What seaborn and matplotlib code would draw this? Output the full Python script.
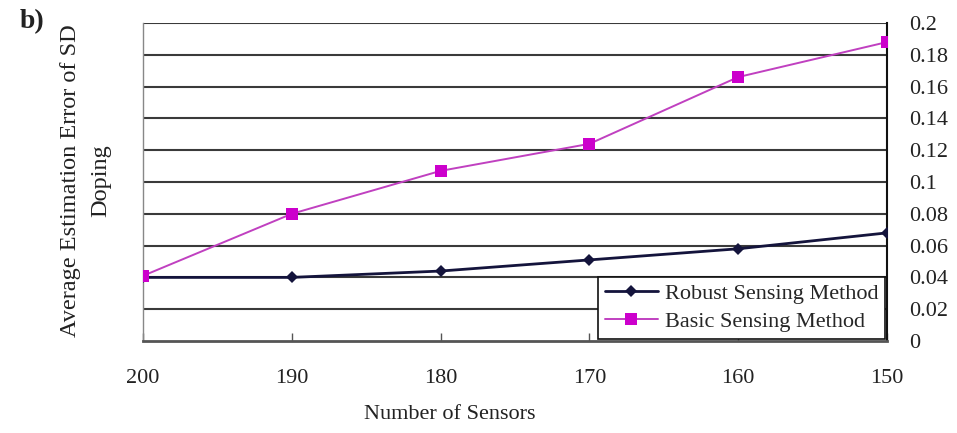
import matplotlib
matplotlib.use("Agg")
import matplotlib.pyplot as plt
import seaborn as sns
import pandas as pd

# Number of sensors (category axis, decreasing left to right)
sensors = [200, 190, 180, 170, 160, 150]
# Average estimation error of SD doping for each method
robust = [0.040, 0.040, 0.044, 0.051, 0.058, 0.068]
basic = [0.041, 0.080, 0.107, 0.124, 0.166, 0.188]
y_ticks = [0, 0.02, 0.04, 0.06, 0.08, 0.1, 0.12, 0.14, 0.16, 0.18, 0.2]
y_tick_labels = ["0", "0.02", "0.04", "0.06", "0.08", "0.1", "0.12", "0.14", "0.16", "0.18", "0.2"]

sns.set_theme(style="white")
plt.rcParams["font.family"] = ["Liberation Serif", "DejaVu Serif"]

df = pd.DataFrame({
    "sensors": sensors * 2,
    "error": robust + basic,
    "method": ["Robust Sensing Method"] * len(sensors) + ["Basic Sensing Method"] * len(sensors),
})

fig = plt.figure(figsize=(9.57, 4.33), dpi=100)
ax = fig.add_axes([143 / 957, 1 - 341 / 433, 744 / 957, 318 / 433])

# horizontal gridlines
for yv in y_ticks[1:]:
    ax.axhline(yv, color="#3a3a3a", lw=1.5, zorder=1)

sns.lineplot(
    data=df[df.method == "Robust Sensing Method"], x="sensors", y="error",
    color="#14143c", lw=2.0, marker="D", markersize=6.5, markeredgewidth=0,
    ax=ax, label="Robust Sensing Method", zorder=3,
)
sns.lineplot(
    data=df[df.method == "Basic Sensing Method"], x="sensors", y="error",
    color="#c040c0", lw=1.4, marker="s", markersize=9, markerfacecolor="#cc00cc",
    markeredgewidth=0, ax=ax, label="Basic Sensing Method", zorder=4,
)

ax.set_xlim(sensors[0], sensors[-1])
ax.set_ylim(0, 0.2)
ax.set_xticks(sensors)
ax.set_xticklabels([str(s) for s in sensors], fontsize=16, color="#222222")
ax.set_yticks(y_ticks)
ax.set_yticklabels(y_tick_labels, fontsize=16, color="#222222")
ax.yaxis.tick_right()
ax.tick_params(axis="y", length=0, pad=16)
ax.tick_params(axis="x", direction="in", length=6, width=1.0, color="#555555", pad=20, bottom=True)

for side, sp in ax.spines.items():
    sp.set_visible(True)
ax.spines["top"].set_visible(False)
ax.spines["left"].set_color("#888888")
ax.spines["left"].set_linewidth(1.0)
ax.spines["right"].set_color("#111111")
ax.spines["right"].set_linewidth(1.5)
ax.spines["bottom"].set_color("#555555")
ax.spines["bottom"].set_linewidth(2.0)

ax.set_xlabel("Number of Sensors", fontsize=16, color="#222222")
ax.xaxis.set_label_coords((450 - 143) / 744, -0.2)
ax.set_ylabel("Average Estimation Error of SD\nDoping", fontsize=17.5, color="#222222",
              linespacing=1.55)
ax.yaxis.set_label_position("left")
ax.yaxis.set_label_coords(-0.043, 0.505)

leg = ax.legend(loc="lower right", fontsize=16, frameon=True, fancybox=False,
                framealpha=1, edgecolor="#111111", handlelength=2.4,
                borderpad=0.3, labelspacing=0.35, handletextpad=0.3,
                borderaxespad=0.1)
leg.get_frame().set_linewidth(1.2)

fig.text(20 / 957, 1 - 22 / 433, "b)", fontsize=20, fontweight="bold", color="#222222",
         va="center", ha="left")

fig.savefig("out.png", dpi=100, facecolor="white")
